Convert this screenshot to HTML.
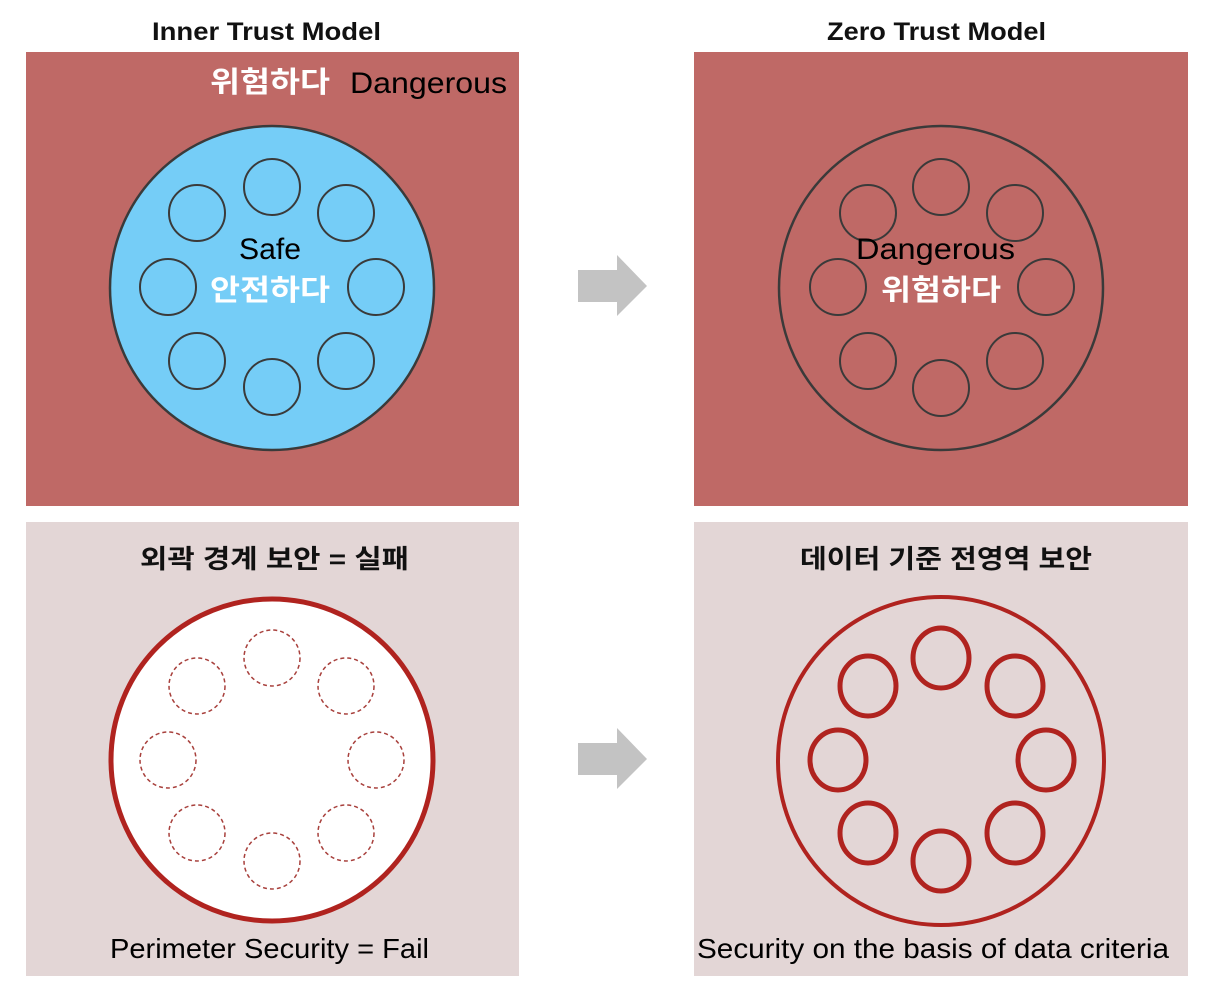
<!DOCTYPE html>
<html><head><meta charset="utf-8"><style>
html,body{margin:0;padding:0;background:#fff;}
svg{display:block;}
text{font-family:"Liberation Sans","Noto Sans CJK KR",sans-serif;}
</style></head><body>
<svg width="1220" height="998" viewBox="0 0 1220 998" xmlns="http://www.w3.org/2000/svg">
<rect width="1220" height="998" fill="#fff"/>
<text x="152" y="40" font-size="25" font-weight="bold" fill="#111" textLength="229" lengthAdjust="spacingAndGlyphs">Inner Trust Model</text>
<text x="827" y="40" font-size="25" font-weight="bold" fill="#111" textLength="219" lengthAdjust="spacingAndGlyphs">Zero Trust Model</text>
<rect x="26" y="52" width="493" height="454" fill="#bf6966"/>
<rect x="694" y="52" width="494" height="454" fill="#bf6966"/>
<rect x="26" y="522" width="493" height="454" fill="#e3d6d6"/>
<rect x="694" y="522" width="494" height="454" fill="#e3d6d6"/>
<text x="210" y="92" font-size="29" fill="#fff" font-weight="bold" textLength="120" lengthAdjust="spacingAndGlyphs">위험하다</text>
<text x="350" y="93" font-size="30" fill="#000" textLength="157" lengthAdjust="spacingAndGlyphs">Dangerous</text>
<g fill="none" stroke="#3a3a3a" stroke-width="2">
<circle cx="272" cy="288" r="162" fill="#75cdf7" stroke-width="2.5"/>
<circle cx="272" cy="187" r="28"/><circle cx="197" cy="213" r="28"/><circle cx="346" cy="213" r="28"/>
<circle cx="168" cy="287" r="28"/><circle cx="376" cy="287" r="28"/>
<circle cx="197" cy="361" r="28"/><circle cx="346" cy="361" r="28"/><circle cx="272" cy="387" r="28"/>
</g>
<text x="239" y="259" font-size="30" fill="#000" textLength="62" lengthAdjust="spacingAndGlyphs">Safe</text>
<text x="210" y="300" font-size="29" fill="#fff" font-weight="bold" textLength="120" lengthAdjust="spacingAndGlyphs">안전하다</text>
<g fill="none" stroke="#3a3a3a" stroke-width="2">
<circle cx="941" cy="288" r="162" stroke-width="2.5"/>
<circle cx="941" cy="187" r="28"/><circle cx="868" cy="213" r="28"/><circle cx="1015" cy="213" r="28"/>
<circle cx="838" cy="287" r="28"/><circle cx="1046" cy="287" r="28"/>
<circle cx="868" cy="361" r="28"/><circle cx="1015" cy="361" r="28"/><circle cx="941" cy="388" r="28"/>
</g>
<text x="856" y="259" font-size="30" fill="#000" textLength="159" lengthAdjust="spacingAndGlyphs">Dangerous</text>
<text x="881" y="300" font-size="29" fill="#fff" font-weight="bold" textLength="120" lengthAdjust="spacingAndGlyphs">위험하다</text>
<polygon points="578,270 617,270 617,255 647,286 617,316 617,302 578,302" fill="#c3c3c3"/>
<polygon points="578,743 617,743 617,728 647,759 617,789 617,775 578,775" fill="#c3c3c3"/>
<text x="140" y="568" font-size="26" font-weight="bold" fill="#111" textLength="269" lengthAdjust="spacingAndGlyphs">외곽 경계 보안 = 실패</text>
<text x="800" y="568" font-size="26" font-weight="bold" fill="#111" textLength="292" lengthAdjust="spacingAndGlyphs">데이터 기준 전영역 보안</text>
<circle cx="272" cy="760" r="161" fill="#fff" stroke="#b0231f" stroke-width="5"/>
<g fill="none" stroke="#a8403c" stroke-width="1.5" stroke-dasharray="4,3">
<circle cx="272" cy="658" r="28"/><circle cx="197" cy="686" r="28"/><circle cx="346" cy="686" r="28"/>
<circle cx="168" cy="760" r="28"/><circle cx="376" cy="760" r="28"/>
<circle cx="197" cy="833" r="28"/><circle cx="346" cy="833" r="28"/><circle cx="272" cy="861" r="28"/>
</g>
<g fill="none" stroke="#b0231f" stroke-width="5">
<ellipse cx="941" cy="761" rx="163" ry="164" stroke-width="4"/>
<ellipse cx="941" cy="658" rx="28" ry="30"/><ellipse cx="868" cy="686" rx="28" ry="30"/><ellipse cx="1015" cy="686" rx="28" ry="30"/>
<ellipse cx="838" cy="760" rx="28" ry="30"/><ellipse cx="1046" cy="760" rx="28" ry="30"/>
<ellipse cx="868" cy="833" rx="28" ry="30"/><ellipse cx="1015" cy="833" rx="28" ry="30"/><ellipse cx="941" cy="861" rx="28" ry="30"/>
</g>
<text x="110" y="958" font-size="28" fill="#000" textLength="319" lengthAdjust="spacingAndGlyphs">Perimeter Security = Fail</text>
<text x="697" y="958" font-size="28" fill="#000" textLength="472" lengthAdjust="spacingAndGlyphs">Security on the basis of data criteria</text>
</svg>
</body></html>
